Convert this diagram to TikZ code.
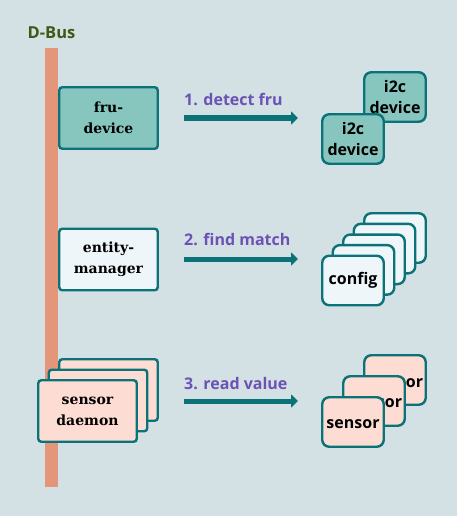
\documentclass[tikz,border=0pt]{standalone}
\usepackage{fontspec}
\setmainfont{DejaVu Serif}
\newfontfamily\osans{Open Sans}
\usetikzlibrary{arrows.meta}
\definecolor{bg}{HTML}{D3E0E4}
\definecolor{busc}{HTML}{E3967A}
\definecolor{tealb}{HTML}{0B7277}
\definecolor{frufill}{HTML}{87C6BF}
\definecolor{entfill}{HTML}{EEF6F9}
\definecolor{sensfill}{HTML}{FDDDD3}
\definecolor{purp}{HTML}{6C52B4}
\definecolor{dbusc}{HTML}{3C5A16}
\begin{document}
\begin{tikzpicture}[x=1pt,y=-1pt,
  lbox/.style={draw=tealb, line width=2.4pt, rounded corners=3pt, align=center, inner sep=0pt,
    minimum width=98.5pt, minimum height=61.5pt, font=\bfseries\fontsize{14}{21}\selectfont},
  rbox/.style={draw=tealb, line width=2.4pt, rounded corners=7pt, inner sep=0pt, align=center,
    minimum width=61.5pt, minimum height=49.5pt, font=\osans\bfseries\fontsize{16}{21}\selectfont},
  rtext/.style={anchor=base, inner sep=0pt, font=\osans\bfseries\fontsize{16}{21}\selectfont},
  lbl/.style={anchor=base west, text=purp, inner sep=0pt, font=\osans\bfseries\fontsize{16}{18}\selectfont},
  flow/.style={draw=tealb, line width=5pt, -{Triangle[length=7pt,width=13pt]}}]
\useasboundingbox[fill=bg] (0,0) rectangle (457,516);

\node[text=dbusc, inner sep=0pt, font=\osans\bfseries\fontsize{16.5}{16.5}\selectfont] (dbus) at (51.5,33) {D-Bus};
\node[fill=busc, inner sep=0pt, minimum width=13pt, minimum height=439pt] (bus) at (51.5,267.5) {};

% left boxes
\node[lbox, fill=frufill] (fru) at (108.5,118) {fru-\\device};
\node[lbox, fill=entfill] (em) at (108.5,259.5) {entity-\\manager};
\node[lbox, fill=sensfill] (sd3) at (108.5,390) {};
\node[lbox, fill=sensfill] (sd2) at (98,400.5) {};
\node[lbox, fill=sensfill] (sd1) at (87.5,411) {sensor\\daemon};

% arrows and labels
\coordinate (a1s) at (184,118); \coordinate (a1e) at (298,118);
\coordinate (a2s) at (184,259); \coordinate (a2e) at (298,259);
\coordinate (a3s) at (184,401); \coordinate (a3e) at (298,401);
\draw[flow] (a1s) -- (a1e);
\draw[flow] (a2s) -- (a2e);
\draw[flow] (a3s) -- (a3e);
\node[lbl] (l1) at (184,106) {1. detect fru};
\node[lbl] (l2) at (184,245) {2. find match};
\node[lbl] (l3) at (184,389) {3. read value};

% i2c devices
\node[rbox, fill=frufill] (i2b) at (395,97) {i2c\\device};
\node[rbox, fill=frufill] (i2a) at (353,139) {i2c\\device};

% config stack
\node[rbox, fill=entfill] (c5) at (395,238) {};
\node[rbox, fill=entfill] (c4) at (384.5,248.6) {};
\node[rbox, fill=entfill] (c3) at (374,259.3) {};
\node[rbox, fill=entfill] (c2) at (363.5,269.9) {};
\node[rbox, fill=entfill] (c1) at (353,280.5) {config};

% sensor stack
\node[rbox, fill=sensfill] (s3) at (395,380) {};
\node[rtext] (t3) at (396.5,387.3) {sensor};
\node[rbox, fill=sensfill] (s2) at (374,401) {};
\node[rtext] (t2) at (375.5,407.7) {sensor};
\node[rbox, fill=sensfill] (s1) at (353,422) {};
\node[rtext] (t1) at (353,428.3) {sensor};
\end{tikzpicture}
\end{document}
